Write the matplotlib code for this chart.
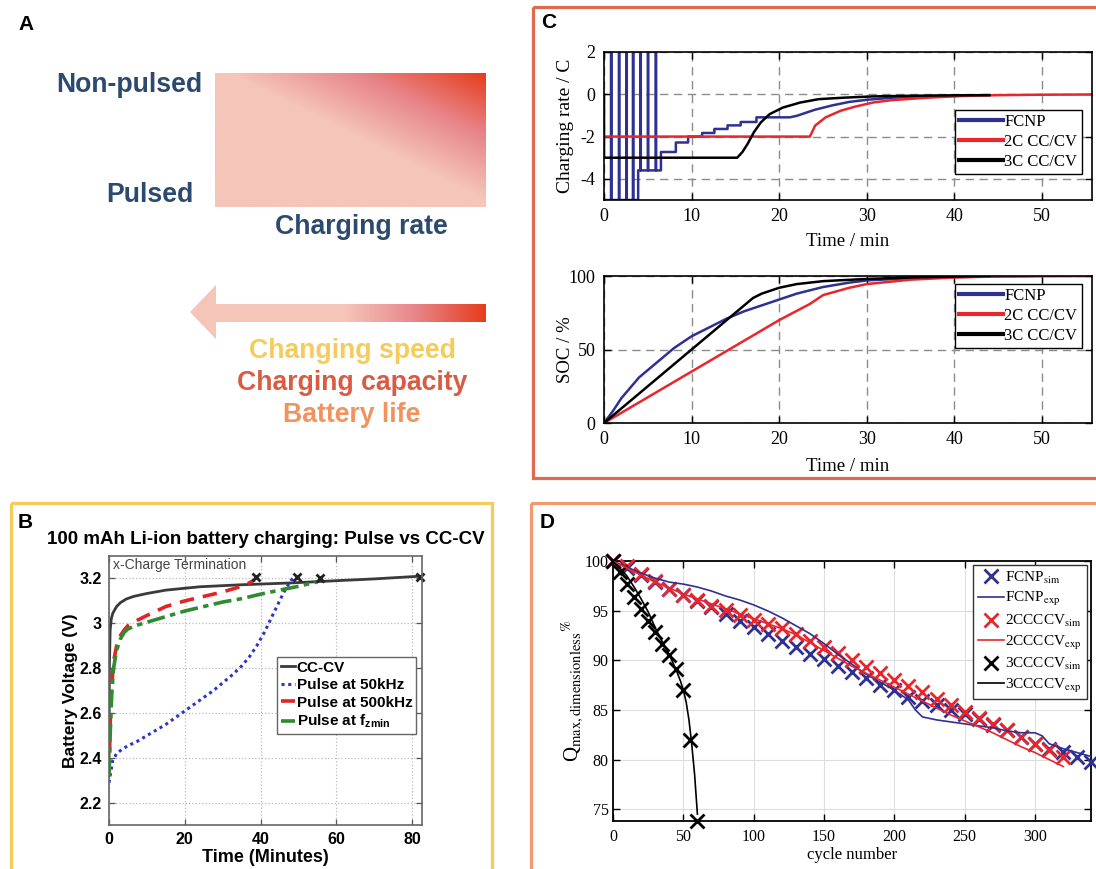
import numpy as np
import matplotlib
matplotlib.use('Agg')
import matplotlib.pyplot as plt
from matplotlib.patches import Rectangle, Polygon
from matplotlib.colors import LinearSegmentedColormap
from matplotlib.font_manager import FontProperties

W, H = 1096, 869
plt.rcParams['axes.unicode_minus'] = False
plt.rcParams['mathtext.fontset'] = 'custom'
plt.rcParams['mathtext.rm'] = 'Liberation Sans'
plt.rcParams['mathtext.bf'] = 'Liberation Sans:bold'
plt.rcParams['mathtext.it'] = 'Liberation Sans:italic'
SANS = 'Liberation Sans'
SERIF = 'Liberation Serif'

# ---------------- data ----------------
# Panel A
a_rows = ['Non-pulsed', 'Pulsed']
a_xlabel = 'Charging rate'
a_effects = ['Changing speed', 'Charging capacity', 'Battery life']
a_effect_colors = ['#F5CB5C', '#D95B43', '#F0935E']

# Panel B (time in minutes, voltage in V)
b_title = '100 mAh Li-ion battery charging: Pulse vs CC-CV'
cccv_t = [0, 0.1, 0.3, 0.6, 1, 2, 3, 4.5, 6.5, 10, 15, 24, 35, 48, 60, 70, 82]
cccv_v = [2.32, 2.8, 2.97, 3.02, 3.045, 3.075, 3.092, 3.108, 3.12, 3.133, 3.148, 3.163, 3.172, 3.18, 3.19, 3.198, 3.21]
p50_t = [0, 0.5, 1, 2, 3.5, 5, 7.5, 10, 12.5, 15, 17.5, 20, 22.5, 25, 27.5, 30, 32.5, 35, 37, 39, 41, 43, 45, 46.5, 48, 49.2]
p50_v = [2.29, 2.34, 2.39, 2.42, 2.44, 2.455, 2.475, 2.5, 2.525, 2.55, 2.58, 2.61, 2.64, 2.67, 2.7, 2.735, 2.77, 2.81, 2.85, 2.9, 2.96, 3.03, 3.1, 3.15, 3.19, 3.215]
p500_t = [0, 0.3, 0.7, 1.2, 2, 3, 4, 5, 7, 10, 15, 20, 25, 30, 34, 37, 38.5]
p500_v = [2.32, 2.55, 2.72, 2.83, 2.9, 2.945, 2.97, 2.99, 3.01, 3.035, 3.075, 3.1, 3.12, 3.14, 3.16, 3.18, 3.195]
pfz_t = [0, 0.3, 0.7, 1.2, 2, 3, 4, 5, 7, 10, 15, 20, 25, 30, 35, 40, 45, 50, 55]
pfz_v = [2.32, 2.5, 2.68, 2.8, 2.88, 2.93, 2.96, 2.975, 2.99, 3.005, 3.03, 3.055, 3.075, 3.095, 3.11, 3.13, 3.148, 3.165, 3.185]
term_t = [38.8, 49.6, 55.6, 82.0]
term_v = [3.205, 3.206, 3.203, 3.206]
b_labels = ['CC-CV', 'Pulse at 50kHz', 'Pulse at 500kHz', r'Pulse at f$_{\mathbf{zmin}}$']

# Panel C top: charging rate (C) vs time (min)
fcnp_t = [0, 0.8, 0.8, 0.85, 0.85, 1.7, 1.7, 1.75, 1.75, 2.55, 2.55, 2.6, 2.6, 3.3, 3.3, 3.35, 3.35,
          3.9, 3.9, 4.15, 4.15, 4.2, 4.2, 5.0, 5.0, 5.05, 5.05, 5.9, 5.9, 5.95, 5.95, 6.5, 6.5,
          8.2, 8.2, 9.6, 9.6, 11.2, 11.2, 12.6, 12.6, 14.1, 14.1, 15.6, 15.6, 17.4, 17.4, 21.2,
          22, 23, 24, 26, 28, 30, 33, 36, 40, 44]
fcnp_r = [-5, -5, 2, 2, -5, -5, 2, 2, -5, -5, 2, 2, -5, -5, 2, 2, -5,
          -5, -3.6, -3.6, 2, 2, -3.6, -3.6, 2, 2, -3.6, -3.6, 2, 2, -3.6, -3.6, -2.73,
          -2.73, -2.28, -2.28, -2.0, -2.0, -1.83, -1.83, -1.64, -1.64, -1.47, -1.47, -1.31, -1.31, -1.09, -1.09,
          -1.02, -0.88, -0.74, -0.53, -0.36, -0.26, -0.16, -0.1, -0.06, -0.04]
cc2_t = [0, 23.5, 24.1, 25.3, 27, 28.6, 30.7, 32.8, 36.9, 41, 45.2, 50, 56]
cc2_r = [-2, -2, -1.48, -1.09, -0.78, -0.59, -0.39, -0.28, -0.16, -0.08, -0.04, -0.02, -0.01]
cc3_t = [0, 0, 15.2, 15.8, 16.4, 17.1, 17.9, 18.9, 20.4, 22.4, 24.5, 27.4, 30.7, 35, 40, 44]
cc3_r = [0, -3, -3, -2.73, -2.34, -1.8, -1.33, -0.94, -0.63, -0.39, -0.23, -0.16, -0.1, -0.07, -0.05, -0.04]
c_labels = ['FCNP', '2C CC/CV', '3C CC/CV']

# Panel C bottom: SOC (%) vs time (min)
soc_fcnp_t = [0, 1, 2, 3, 4, 5, 6, 7, 8, 10, 12, 14, 16, 18, 20, 22, 25, 28, 30, 35, 40, 45, 49]
soc_fcnp = [0, 8, 17, 24, 31, 36, 41, 46, 51, 59, 65, 71, 76, 80, 84, 88, 92.5, 95.5, 97, 98.5, 99.3, 99.7, 100]
soc_2c_t = [0, 10, 20, 23.5, 25, 28, 30, 35, 40, 45, 56]
soc_2c = [0, 35, 70, 81, 87, 92, 94.5, 97.5, 99, 99.7, 100]
soc_3c_t = [0, 5, 10, 15, 17, 18, 20, 22, 25, 30, 35, 40, 44]
soc_3c = [0, 25, 50, 75, 85, 88, 92, 94.5, 96.5, 98, 99, 99.6, 100]

# Panel D: capacity retention (%) vs cycle number
fcnp_sim_n = list(range(0, 341, 10))
fcnp_sim_q = [100, 99.3, 98.6, 97.9, 97.2, 96.6, 96.0, 95.4, 94.7, 94.0, 93.4, 92.65, 92.0, 91.4, 90.6,
              90.1, 89.4, 88.8, 88.2, 87.5, 87.0, 86.3, 85.9, 85.5, 85.0, 84.6, 84.1, 83.5, 83.0, 82.3,
              81.6, 81.1, 80.8, 80.3, 79.8]
fcnp_exp_n = [0, 10, 20, 30, 40, 50, 60, 70, 80, 90, 100, 110, 120, 130, 140, 150, 160, 170, 180, 190,
              200, 210, 215, 220, 230, 240, 250, 260, 270, 280, 290, 300, 305, 310, 320, 330, 340]
fcnp_exp_q = [100, 99.4, 98.8, 98.3, 97.9, 97.7, 97.4, 97.0, 96.5, 96.1, 95.6, 95.0, 94.3, 93.5, 92.7,
              91.7, 90.6, 89.6, 88.6, 87.8, 87.0, 86.0, 85.0, 84.3, 84.0, 83.8, 83.6, 83.4, 83.2, 82.9,
              82.7, 82.7, 82.4, 81.6, 81.1, 80.7, 80.3]
cc2_sim_n = list(range(0, 321, 10))
cc2_sim_q = [100, 99.5, 98.75, 98.0, 97.25, 96.6, 96.1, 95.5, 95.1, 94.6, 94.1, 93.7, 93.3, 92.7, 92.0,
             91.4, 90.7, 90.0, 89.3, 88.7, 88.0, 87.4, 86.8, 86.1, 85.5, 84.8, 84.2, 83.6, 83.0, 82.3,
             81.6, 80.97, 80.3]
cc2_exp_n = list(range(0, 321, 10))
cc2_exp_q = [100, 99.3, 98.6, 97.9, 97.3, 96.7, 96.2, 95.7, 95.2, 94.7, 94.2, 93.7, 93.2, 92.6, 91.8,
             91.0, 90.2, 89.4, 88.7, 88.0, 87.3, 86.6, 85.9, 85.2, 84.5, 83.9, 83.3, 82.7, 82.0, 81.3,
             80.7, 80.0, 79.3]
cc3_sim_n = [0, 5, 10, 15, 20, 25, 30, 35, 40, 45, 50, 55, 60]
cc3_sim_q = [100, 98.9, 97.7, 96.4, 95.2, 94.0, 92.9, 91.7, 90.5, 89.1, 87.0, 82.0, 73.8]
cc3_exp_n = [0, 5, 10, 15, 20, 25, 30, 35, 40, 45, 48, 50, 52, 54, 56, 58, 60]
cc3_exp_q = [100, 99.3, 98.5, 97.4, 96.2, 94.9, 93.3, 91.9, 90.6, 89.0, 87.9, 87.0, 85.8, 84.0, 81.5, 78.5, 74.5]
d_labels = [r'FCNP$_{\mathrm{sim}}$', r'FCNP$_{\mathrm{exp}}$', r'2CCCCV$_{\mathrm{sim}}$',
            r'2CCCCV$_{\mathrm{exp}}$', r'3CCCCV$_{\mathrm{sim}}$', r'3CCCCV$_{\mathrm{exp}}$']

BLUE = '#2E3192'
RED = '#E8262B'
NAVY = '#2C4A70'


def rect(l, t, r, b):
    return [l / W, 1 - b / H, (r - l) / W, (b - t) / H]


fig = plt.figure(figsize=(W / 100, H / 100), dpi=100)

# ---------------- background / panel A ----------------
bg = fig.add_axes([0, 0, 1, 1])
bg.axis('off')
bg.add_patch(Rectangle((533, 7), 600, 471, fill=False, ec='#E06A4E', lw=2.3))
bg.add_patch(Rectangle((11, 503), 481, 400, fill=False, ec='#F6CB5A', lw=2.3))
bg.add_patch(Rectangle((531, 503), 600, 400, fill=False, ec='#F29A6C', lw=2.3))

cmap = LinearSegmentedColormap.from_list('pr', ['#F5C5B9', '#E8858A', '#E53D1C'])
u = np.linspace(0, 1, 300)[None, :]
v = np.linspace(1, 0, 150)[:, None]
grad = np.clip((u + v - 1.05) / 0.95, 0, 1)
bg.imshow(grad, cmap=cmap, vmin=0, vmax=1, extent=(215, 486, 207, 73), origin='upper',
          aspect='auto', interpolation='bilinear')
arrow = Polygon([(190, 312), (216, 285), (216, 304), (486, 304), (486, 322), (216, 322), (216, 339)],
                closed=True, fc='none', ec='none')
bg.add_patch(arrow)
xa = np.linspace(190, 486, 400)
ta = np.clip((xa - 345) / (486 - 345), 0, 1)[None, :]
im = bg.imshow(ta, cmap=cmap, vmin=0, vmax=1, extent=(190, 486, 339, 285), origin='upper',
               aspect='auto', interpolation='bilinear')
im.set_clip_path(arrow)
bg.set_xlim(0, W)
bg.set_ylim(H, 0)

tk = dict(family=SANS, fontweight='bold', fontsize=19.2)
bg.text(202, 85, a_rows[0], color=NAVY, ha='right', va='center', **tk)
bg.text(193, 195, a_rows[1], color=NAVY, ha='right', va='center', **tk)
bg.text(361, 227, a_xlabel, color=NAVY, ha='center', va='center', **tk)
for i, (s, c) in enumerate(zip(a_effects, a_effect_colors)):
    bg.text(352, 351 + 32 * i, s, color=c, ha='center', va='center', **tk)

pk = dict(family=SANS, fontweight='bold', fontsize=15, color='black', ha='center', va='center')
bg.text(26, 24, 'A', **pk)
bg.text(25, 522, 'B', **pk)
bg.text(549, 23, 'C', **pk)
bg.text(547, 522, 'D', **pk)

# ---------------- panel B ----------------
axb = fig.add_axes(rect(109, 556, 422, 825))
axb.plot(cccv_t, cccv_v, color='#3A3A3A', lw=2.0, label=b_labels[0])
axb.plot(p50_t, p50_v, color='#2B35C8', lw=2.2, ls=(0, (1, 1.2)), label=b_labels[1])
axb.plot(p500_t, p500_v, color='#E32424', lw=2.6, ls=(0, (4, 2.5)), label=b_labels[2])
axb.plot(pfz_t, pfz_v, color='#2E8B30', lw=2.6, ls=(0, (5, 1.5, 1.5, 1.5)), label=b_labels[3])
axb.plot(term_t, term_v, ls='none', marker='x', ms=6, mew=2, color='#222222', clip_on=False)
axb.set_xlim(0, 82.6)
axb.set_ylim(2.102, 3.300)
axb.set_xticks([0, 20, 40, 60, 80])
axb.set_yticks([2.2, 2.4, 2.6, 2.8, 3.0, 3.2])
axb.set_yticklabels(['2.2', '2.4', '2.6', '2.8', '3', '3.2'])
axb.grid(True, ls=':', color='#BBBBBB', lw=0.9)
axb.tick_params(direction='in', top=True, right=True, length=4, width=0.9, color='#555555', pad=5)
for lab in axb.get_xticklabels() + axb.get_yticklabels():
    lab.set_family(SANS)
    lab.set_fontweight('bold')
    lab.set_fontsize(11.5)
for sp in axb.spines.values():
    sp.set_color('#666666')
    sp.set_linewidth(1.2)
axb.set_title(b_title, family=SANS, fontweight='bold', fontsize=13.5, y=(825 - 548) / 269, va='center')
axb.set_xlabel('Time (Minutes)', family=SANS, fontweight='bold', fontsize=13)
axb.set_ylabel('Battery Voltage (V)', family=SANS, fontweight='bold', fontsize=12.5)
axb.xaxis.set_label_coords(0.5, (825 - 858) / 269)
axb.xaxis.label.set_va('center')
axb.yaxis.set_label_coords((70 - 109) / 313, 0.5)
axb.yaxis.label.set_va('center')
axb.text((113 - 109) / 313, (825 - 565) / 269, 'x-Charge Termination', transform=axb.transAxes,
         family=SANS, fontsize=10, color='#444444', ha='left', va='center')
legb = axb.legend(loc='upper left', bbox_to_anchor=(277 / W, 1 - 657 / H), bbox_transform=fig.transFigure,
                  borderaxespad=0, prop=FontProperties(family=SANS, weight='bold', size=11),
                  handlelength=0.9, handletextpad=0.15, borderpad=0.25, labelspacing=0.22,
                  fancybox=False, framealpha=1, edgecolor='#666666')
legb.get_frame().set_linewidth(1.0)

# ---------------- panel C ----------------
def style_c(ax):
    ax.tick_params(direction='in', top=True, right=True, length=5, width=1.0, pad=6, labelsize=13)
    for lab in ax.get_xticklabels() + ax.get_yticklabels():
        lab.set_family(SERIF)
    for sp in ax.spines.values():
        sp.set_linewidth(1.2)
    ax.grid(True, ls=(0, (6, 4)), color='#8C8C8C', lw=1.0)

axc1 = fig.add_axes(rect(604, 52, 1092, 200))
axc1.plot(fcnp_t, fcnp_r, color=BLUE, lw=1.8, label=c_labels[0])
axc1.plot(cc2_t, cc2_r, color=RED, lw=1.8, label=c_labels[1])
axc1.plot(cc3_t, cc3_r, color='black', lw=1.8, label=c_labels[2])
axc1.set_xlim(0, 55.7)
axc1.set_ylim(-5, 2)
axc1.set_xticks([0, 10, 20, 30, 40, 50])
axc1.set_yticks([2, 0, -2, -4])
style_c(axc1)
axc1.set_xlabel('Time / min', family=SERIF, fontsize=13.5)
axc1.set_ylabel('Charging rate / C', family=SERIF, fontsize=14)
axc1.xaxis.set_label_coords(0.5, (200 - 241) / 148)
axc1.xaxis.label.set_va('center')
axc1.yaxis.set_label_coords((566 - 604) / 488, 0.5)
axc1.yaxis.label.set_va('center')

axc2 = fig.add_axes(rect(604, 276, 1092, 423))
axc2.plot(soc_fcnp_t, soc_fcnp, color=BLUE, lw=1.8, label=c_labels[0])
axc2.plot(soc_2c_t, soc_2c, color=RED, lw=1.8, label=c_labels[1])
axc2.plot(soc_3c_t, soc_3c, color='black', lw=1.8, label=c_labels[2])
axc2.set_xlim(0, 55.7)
axc2.set_ylim(0, 100)
axc2.set_xticks([0, 10, 20, 30, 40, 50])
axc2.set_yticks([0, 50, 100])
style_c(axc2)
axc2.set_xlabel('Time / min', family=SERIF, fontsize=13.5)
axc2.set_ylabel('SOC / %', family=SERIF, fontsize=13.5)
axc2.xaxis.set_label_coords(0.5, (423 - 466) / 147)
axc2.xaxis.label.set_va('center')
axc2.yaxis.set_label_coords((566 - 604) / 488, 0.5)
axc2.yaxis.label.set_va('center')

for ax, top in [(axc1, 110), (axc2, 284)]:
    lg = ax.legend(loc='upper left', bbox_to_anchor=(955 / W, 1 - top / H), bbox_transform=fig.transFigure,
                   borderaxespad=0, prop=FontProperties(family=SERIF, size=12),
                   handlelength=2.6, handletextpad=0.12, borderpad=0.25, labelspacing=0.22,
                   fancybox=False, framealpha=1, edgecolor='black')
    lg.get_frame().set_linewidth(1.0)
    for ln in lg.get_lines():
        ln.set_linewidth(3)

# ---------------- panel D ----------------
axd = fig.add_axes(rect(613, 561, 1091, 821))
mk = dict(ls='none', marker='x', ms=9.5, mew=2.0, clip_on=False)
axd.plot(fcnp_sim_n, fcnp_sim_q, color=BLUE, label=d_labels[0], zorder=3, **mk)
axd.plot(fcnp_exp_n, fcnp_exp_q, color=BLUE, lw=1.2, label=d_labels[1], zorder=4)
axd.plot(cc2_sim_n, cc2_sim_q, color=RED, label=d_labels[2], zorder=3, **mk)
axd.plot(cc2_exp_n, cc2_exp_q, color=RED, lw=1.2, label=d_labels[3], zorder=4)
axd.plot(cc3_sim_n, cc3_sim_q, color='black', label=d_labels[4], zorder=3, **mk)
axd.plot(cc3_exp_n, cc3_exp_q, color='black', lw=1.2, label=d_labels[5], zorder=4)
axd.set_xlim(0, 339.8)
axd.set_ylim(73.8, 100.03)
axd.set_xticks([0, 50, 100, 150, 200, 250, 300])
axd.set_yticks([75, 80, 85, 90, 95, 100])
axd.grid(True, color='#DDDDDD', lw=0.8)
axd.set_axisbelow(True)
axd.tick_params(direction='in', top=True, right=True, length=5, width=1.0, labelsize=11.5)
axd.tick_params(axis='y', pad=3)
axd.tick_params(axis='x', pad=6)
for lab in axd.get_xticklabels() + axd.get_yticklabels():
    lab.set_family(SERIF)
for sp in axd.spines.values():
    sp.set_linewidth(1.3)
axd.set_xlabel('cycle number', family=SERIF, fontsize=12)
axd.set_ylabel(r'Q$_{\mathrm{max,dimensionless}}$$^{\%}$', family=SERIF, fontsize=15,
               math_fontfamily='stix')
axd.xaxis.set_label_coords(0.5, (821 - 855) / 260)
axd.xaxis.label.set_va('center')
axd.yaxis.set_label_coords((572 - 613) / 478, 0.5)
axd.yaxis.label.set_va('center')
lgd = axd.legend(loc='upper left', bbox_to_anchor=(973 / W, 1 - 565 / H), bbox_transform=fig.transFigure,
                 borderaxespad=0, prop=FontProperties(family=SERIF, size=11, math_fontfamily='stix'),
                 handlelength=1.7, handletextpad=0.1, borderpad=0.3, labelspacing=0.3,
                 fancybox=False, framealpha=1, edgecolor='#333333')
lgd.get_frame().set_linewidth(1.0)

fig.savefig('out.png', dpi=100)
